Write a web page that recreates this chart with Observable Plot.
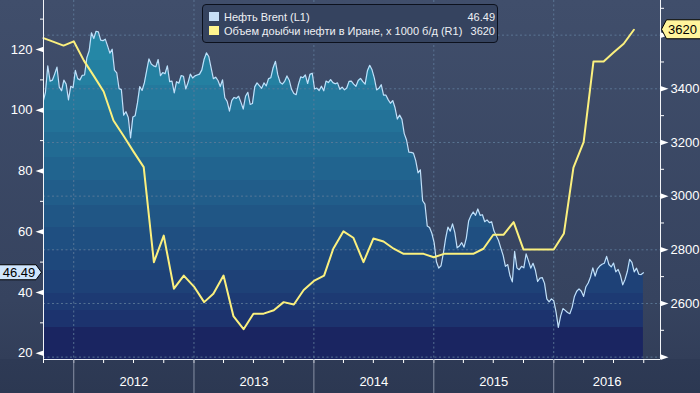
<!DOCTYPE html>
<html><head><meta charset="utf-8">
<script src="https://cdn.jsdelivr.net/npm/d3@7"></script>
<script src="https://cdn.jsdelivr.net/npm/@observablehq/plot@0.6"></script>
<style>
body{margin:0;background:#2d3953;}
#wrap{position:relative;width:700px;height:393px;overflow:hidden;
 background:linear-gradient(#404e6b 0px,#36435f 300px,#323e59 359px,#2e3a55 359px,#2c3852 393px);
 font-family:"Liberation Sans",Arial,sans-serif;}
#wrap svg{position:absolute;left:0;top:0;}
#legend{position:absolute;left:202px;top:4px;width:294px;height:37px;border:1px solid #0c111d;border-radius:4px;background:#35435f;color:#eef0f4;font-size:11px;}
.row{position:absolute;left:0;right:0;height:14px;line-height:14px;}
.sw{position:absolute;left:6px;top:2px;width:10px;height:9px;}
.nm{position:absolute;left:21px;top:0;white-space:nowrap;}
.vl{position:absolute;right:2px;top:0;}
</style></head>
<body>
<div id="wrap"><div id="legend"></div></div>
<script>
// ---- data ----
const brentStart = "2011-09-30"; // weekly (Fridays)
const brentValues = [
 102.8, 105.9, 114.6, 109.6, 109.9, 111.9, 114.2, 107.6, 106.4, 109.9, 108.6, 103.4, 107.9, 107.4,
 113.1, 110.4, 110.0, 111.5,
 111.6, 117.3, 119.6, 125.5,
 123.6, 126.0, 125.8, 123.1, 122.9,
 123.4, 121.2, 118.8, 120.1,
 113.2, 112.3, 107.1, 106.8,
 98.4, 99.5, 97.6, 90.9, 97.8,
 98.2, 102.4, 107.8, 106.5,
 109.0, 113.0, 116.9, 115.2, 114.6,
 114.3, 116.7, 111.4, 112.4,
 112.0, 114.6, 109.4, 109.6,
 105.7, 109.4, 108.9, 111.4, 111.2,
 107.0, 109.1, 111.9, 110.6,
 111.3, 111.6, 111.9, 113.3,
 116.8, 118.9, 117.7, 114.0,
 110.4, 110.9, 109.8, 107.8, 110.0,
 104.1, 102.9, 99.7, 103.2,
 104.2, 103.9, 104.6, 102.6, 100.4,
 104.6, 105.9, 101.9, 102.2,
 107.7, 109.0, 108.1, 107.2,
 109.0, 108.0, 110.4, 110.7, 114.0,
 116.1, 111.7, 109.2, 108.6,
 109.5, 111.3, 109.9, 106.9,
 105.5, 105.1, 108.5, 111.0, 110.7,
 111.6, 108.8, 111.8, 112.2,
 107.0, 107.3, 106.5, 107.9, 106.4,
 109.6, 109.1, 110.1, 109.1,
 108.7, 109.0, 106.9, 107.6,
 106.7, 107.3, 109.5, 109.6,
 108.6, 107.9, 109.8, 110.5, 109.4,
 108.6, 113.0, 114.8, 113.3,
 110.6, 106.7, 107.2, 108.4,
 105.0, 105.0, 103.5, 102.3, 103.2,
 100.8, 97.1, 98.4, 97.0,
 92.3, 90.2, 86.2, 86.1, 85.9,
 83.4, 79.4, 80.4, 70.2,
 69.1, 61.9, 61.4, 59.5,
 56.4, 50.1, 48.0, 48.8, 52.9,
 57.8, 61.5, 60.2, 62.6,
 59.7, 54.7, 55.3, 56.4,
 54.9, 57.9, 63.5, 65.3,
 66.5, 65.4, 67.5, 65.4, 65.6,
 63.3, 63.9, 63.0, 63.3,
 60.3, 58.7, 57.1, 54.6, 52.2,
 48.6, 49.2, 45.5, 43.5,
 53.5, 48.1, 47.5, 48.6,
 48.1, 52.7, 50.5, 48.0, 49.6,
 47.4, 43.6, 44.7, 44.9,
 43.0, 37.9, 36.9, 37.9,
 37.3, 33.6, 28.5, 32.2, 34.7,
 34.1, 33.4, 33.0, 35.1,
 38.7, 40.4, 41.2, 40.4,
 38.7, 41.9, 43.1, 45.1, 48.1,
 45.4, 47.8, 48.7, 49.3,
 49.6, 51.9, 49.2, 48.4,
 49.7, 46.8, 47.6, 45.7, 42.5,
 44.3, 46.9, 50.9, 49.9,
 46.8, 48.0, 46.0, 45.9, 46.49
];
const iranStart = "2011-10-01"; // monthly
const iranValues = [
 3589, 3575, 3561,
 3577, 3505, 3450, 3390, 3282, 3224, 3166, 3108, 2754, 2853, 2655, 2704,
 2663, 2605, 2636, 2704, 2553, 2504, 2562, 2562, 2575, 2605, 2596, 2650,
 2684, 2704, 2804, 2869, 2845, 2754, 2842, 2831, 2804, 2785, 2785, 2785,
 2772, 2785, 2785, 2785, 2785, 2804, 2856, 2856, 2903, 2801, 2801, 2801,
 2801, 2861, 3106, 3201, 3502, 3502, 3535, 3568, 3620
];
const seriesNames = ["Нефть Brent (L1)", "Объем доыбчи нефти в Иране, x 1000 б/д (R1)"];
const leftTicks = [20, 40, 60, 80, 100, 120];
const leftMinor = [30, 50, 70, 90, 110, 130];
const rightTicks = [2400, 2600, 2800, 3000, 3200, 3400, 3600];
const rightLabels = [2600, 2800, 3000, 3200, 3400];
const rightMinor = [2500, 2700, 2900, 3100, 3300, 3500, 3700];
const years = [2012, 2013, 2014, 2015, 2016];

// ---- scales / derived ----
const parse = d3.utcParse("%Y-%m-%d");
const brent = brentValues.map((v, i) => ({date: d3.utcDay.offset(parse(brentStart), 7 * i), value: v}));
const iran = iranValues.map((v, i) => ({date: d3.utcMonth.offset(parse(iranStart), i), value: v}));
const xDomain = [parse("2011-10-01"), parse("2016-11-21")];
const yLo = 17.93, yHi = 136.13;
const toL = d3.scaleLinear([2391.2, 3729.1], [yLo, yHi]);
const yearStarts = years.map(y => new Date(Date.UTC(y, 0, 1)));
const quarterTicks = d3.utcMonth.every(3).range(xDomain[0], xDomain[1]);
const yearLabels = years.map(y => {
  const a = new Date(Date.UTC(y, 0, 1));
  const b = d3.min([new Date(Date.UTC(y + 1, 0, 1)), xDomain[1]]);
  return {label: String(y), mid: new Date((+a + +b) / 2)};
});
const lastB = brent[brent.length - 1];
const lastI = iran[iran.length - 1];

const triLeft = {draw(c){c.moveTo(-8,0);c.lineTo(0,-2.8);c.lineTo(0,2.8);c.closePath();}};
const triRight = {draw(c){c.moveTo(8,0);c.lineTo(0,-2.8);c.lineTo(0,2.8);c.closePath();}};

const grid = {stroke: "#5f7b9a", strokeOpacity: 0.85, strokeDasharray: "2,2.5"};
const blank = () => "";

const chart = Plot.plot({
  width: 700, height: 393,
  marginLeft: 43, marginRight: 40, marginTop: 0, marginBottom: 34,
  style: {background: "transparent", color: "#ffffff", fontFamily: "Liberation Sans, Arial, sans-serif", fontSize: "13px"},
  x: {type: "utc", domain: xDomain, label: null},
  y: {domain: [yLo, yHi], label: null},
  marks: [
    Plot.areaY(brent, {x: "date", y1: () => yLo, y2: "value", fill: "url(#bands)", clip: true}),
    Plot.ruleY(rightTicks.map(toL), grid),
    Plot.ruleX(yearStarts, grid),
    Plot.lineY(brent, {x: "date", y: "value", stroke: "#c0e0fa", strokeWidth: 1.2, clip: true}),
    Plot.lineY(iran, {x: "date", y: d => toL(d.value), stroke: "#fbf07e", strokeWidth: 2}),
    // axis lines
    Plot.ruleX(xDomain, {stroke: "#f2f4f8"}),
    Plot.ruleY([yLo], {stroke: "#f2f4f8"}),
    // left axis
    Plot.axisY(leftMinor, {anchor: "left", tickSize: 3, tickFormat: blank, label: null}),
    Plot.dot(leftTicks, {y: d => d, frameAnchor: "left", symbol: triLeft, fill: "white", stroke: null}),
    Plot.axisY(leftTicks, {anchor: "left", tickSize: 0, tickPadding: 11, label: null, fontSize: 13}),
    // right axis
    Plot.axisY(rightMinor.map(toL), {anchor: "right", tickSize: 3, tickFormat: blank, label: null}),
    Plot.dot(rightTicks.map(toL), {y: d => d, frameAnchor: "right", symbol: triRight, fill: "white", stroke: null}),
    Plot.axisY(rightLabels.map(toL), {anchor: "right", tickSize: 0, tickPadding: 10, label: null, fontSize: 13,
      tickFormat: d => String(Math.round(toL.invert(d)))}),
    // x axis
    Plot.axisX(quarterTicks, {tickSize: 4, stroke: "white", tickFormat: blank, label: null}),
    Plot.axisX(yearStarts, {tickSize: 34, stroke: "#8790a4", tickFormat: blank, label: null}),
    Plot.text(yearLabels, {x: "mid", text: "label", frameAnchor: "bottom", dy: 26, fontSize: 13, fill: "white"})
  ]
});

// stepped band gradient for the area fill
const ns = "http://www.w3.org/2000/svg";
const defs = document.createElementNS(ns, "defs");
const lg = document.createElementNS(ns, "linearGradient");
lg.setAttribute("id", "bands");
lg.setAttribute("gradientUnits", "userSpaceOnUse");
lg.setAttribute("x1", 0); lg.setAttribute("x2", 0); lg.setAttribute("y1", 0); lg.setAttribute("y2", 393);
const edges = [0, 60, 85, 110, 132, 157, 180, 205, 227, 250, 270, 293, 310, 327];
const interp = d3.interpolateRgb("#2587a6", "#1c336e");
const bands = edges.map((e, i) => [e, i < edges.length - 1 ? edges[i + 1] : 393,
  i < edges.length - 1 ? interp(i / (edges.length - 2)) : "#1a2561"]);
for (const [a, b, c] of bands) {
  for (const o of [a, b]) {
    const s = document.createElementNS(ns, "stop");
    s.setAttribute("offset", o / 393);
    s.setAttribute("stop-color", c);
    lg.appendChild(s);
  }
}
defs.appendChild(lg);
chart.prepend(defs);

// value tags on the axes, positioned with the chart's y scale
const yS = chart.scale("y");
const xL = 43, xR = 660;
function tag(pts, yPix, label, cx, fill) {
  const g = document.createElementNS(ns, "g");
  const p = document.createElementNS(ns, "polygon");
  p.setAttribute("points", pts.map(([x, dy]) => `${x},${yPix + dy}`).join(" "));
  p.setAttribute("fill", fill); p.setAttribute("stroke", "#000"); p.setAttribute("stroke-width", 1);
  const t = document.createElementNS(ns, "text");
  t.setAttribute("x", cx); t.setAttribute("y", yPix); t.setAttribute("dy", "0.35em");
  t.setAttribute("text-anchor", "middle"); t.setAttribute("fill", "#000");
  t.setAttribute("font-size", 13); t.setAttribute("font-family", "Liberation Sans, Arial, sans-serif");
  t.textContent = label;
  g.append(p, t);
  chart.append(g);
}
const yB = yS.apply(lastB.value);
tag([[-1, -7.5], [xL - 7, -7.5], [xL - 1.5, 0], [xL - 7, 7.5], [-1, 7.5]], yB, d3.format(".2f")(lastB.value), 19, "#cfe5fc");
const yI = yS.apply(toL(lastI.value));
tag([[xR + 1.5, 0], [xR + 6.5, -9.5], [701, -9.5], [701, 9.5], [xR + 6.5, 9.5]], yI, String(lastI.value), 682.5, "#fff59c");

document.getElementById("wrap").prepend(chart);

// legend
const legend = document.getElementById("legend");
const rows = [
  {name: seriesNames[0], color: "#c7dff7", value: d3.format(".2f")(lastB.value)},
  {name: seriesNames[1], color: "#fff58e", value: String(lastI.value)}
];
rows.forEach((r, i) => {
  const row = document.createElement("div");
  row.className = "row";
  row.style.top = (5 + i * 14.4) + "px";
  row.innerHTML = `<span class="sw" style="background:${r.color}"></span><span class="nm"></span><span class="vl"></span>`;
  row.querySelector(".nm").textContent = r.name;
  row.querySelector(".vl").textContent = r.value;
  legend.appendChild(row);
});
</script>
</body></html>
